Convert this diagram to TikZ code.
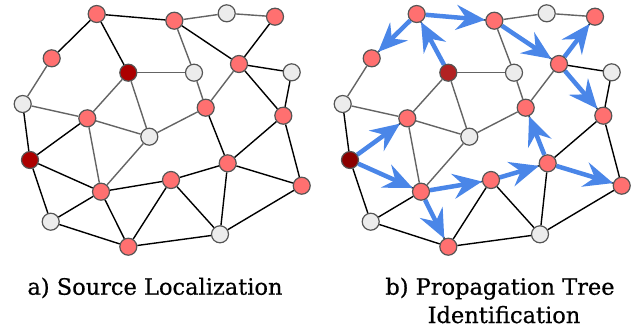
\documentclass[tikz,border=0pt]{standalone}
\usepackage{fontspec}
\setmainfont{DejaVu Serif}[FakeBold=0.6]
\usetikzlibrary{arrows.meta}

\definecolor{hitred}{RGB}{255,112,112}
\definecolor{idlegray}{RGB}{236,236,236}
\definecolor{rimgray}{RGB}{85,85,85}
\definecolor{edgegray}{RGB}{100,100,100}
\definecolor{spreadblue}{RGB}{74,134,232}
\definecolor{srcred}{RGB}{172,0,0}
\definecolor{srcfire}{RGB}{178,34,34}
\definecolor{srcdark}{RGB}{139,0,0}

\begin{document}
\begin{tikzpicture}[x=1pt,y=-1pt,
	vertex/.style={circle,draw=rimgray,line width=1.2pt,minimum size=17pt,inner sep=0pt},
	hit/.style={vertex,fill=hitred},
	idle/.style={vertex,fill=idlegray},
	link/.style={line width=1.4pt,black},
	weak/.style={line width=1.4pt,edgegray},
	spread/.style={line width=4.5pt,spreadblue,-{Stealth[length=29pt,width=25pt,inset=10pt]}},
	caption/.style={font=\fontsize{22.5}{28}\selectfont,inner sep=0pt}]

	\useasboundingbox (0,0) rectangle (637,330);

	\foreach \p/\dx/\ca/\cb in {a/0/srcred/srcred, b/320/srcfire/srcdark}{
	\begin{scope}[xshift=\dx pt,
		srcone/.style={vertex,fill=\ca},
		srctwo/.style={vertex,fill=\cb}]
		\foreach \n/\x/\y/\s in {A/96.7/14/hit, B/174.3/20.7/hit, C/226.7/13.3/idle,
			D/275/16.7/hit, E/51.7/58.3/hit, F/128.3/72.7/srcone, G/194/72.7/idle,
			H/239/64/hit, I/291.7/72.3/idle, J/22.7/104/idle, K/87.3/118.3/hit,
			L/205.7/107.7/hit, M/283.3/115.7/hit, N/149.3/136.7/idle, O/30/160/srctwo,
			P/227.7/163.3/hit, Q/171/180/hit, R/101/191.7/hit, S/301.7/185.7/hit,
			T/50.7/221.7/idle, U/220/234.3/idle, V/128.3/246.7/hit}
			\node[\s] (\p\n) at (\x,\y) {};
		\foreach \u/\v in {A/B, A/E, A/F, B/H, D/H, H/I, H/M, I/M, J/O, K/O, L/P,
			M/P, M/S, O/R, O/T, R/Q, R/T, R/V, Q/P, Q/V, Q/U, P/U, P/S, S/U, T/V, V/U}
			\draw[link] (\p\u) -- (\p\v);
		\foreach \u/\v in {B/C, C/D, E/J, B/G, F/G, F/K, F/N, H/L, G/L, J/K, K/N,
			K/R, L/N, N/R}
			\draw[weak] (\p\u) -- (\p\v);
	\end{scope}
	}

	% spreading paths
	\foreach \u/\v in {F/A, A/E, A/B, B/H, H/D, H/M, O/K, O/R, R/Q, R/V, Q/P, P/L, P/S}
		\draw[spread] (b\u) -- (b\v);

	\node[caption,anchor=base] (capa) at (155,294.7) {a) Source Localization};
	\node[caption,anchor=base] (capb) at (500,294.7) {b) Propagation Tree};
	\node[caption,anchor=base] (capc) at (504,323) {Identification};

\end{tikzpicture}
\end{document}
